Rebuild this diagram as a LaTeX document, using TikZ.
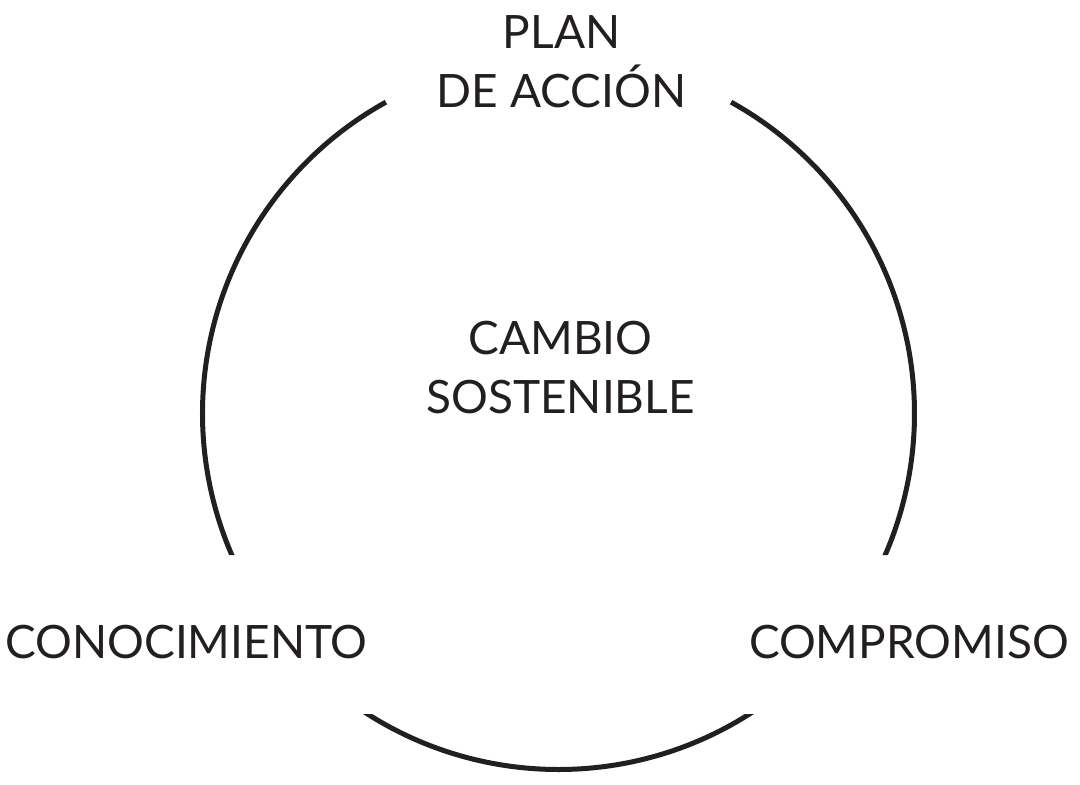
\documentclass[tikz,border=0pt]{standalone}
\usepackage{fontspec}
\setmainfont{Lato}
\definecolor{tinta}{HTML}{231F20}
\tikzset{
  aro/.style={draw=tinta,line width=2.5pt},
  rotulo/.style={text=tinta,font=\fontsize{23}{29.5}\selectfont,align=center,inner sep=0pt,anchor=base}
}
\begin{document}
\begin{tikzpicture}[x=0.5pt,y=0.5pt]
    \useasboundingbox (-558.5,-370.5) rectangle (521.5,413.5);
    \coordinate (centro) at (0,0);
    \begin{scope}
      \clip (-560,-141.5) rectangle (530,420) (-560,-372) rectangle (530,-300.5);
      \foreach \a/\b in {119/215,-35/61,230/310}
        \draw[aro] (centro) ++(\a:356) arc[start angle=\a,end angle=\b,radius=356];
    \end{scope}
    \node[rotulo] (plan) at (3,306.5) {PLAN\\DE ACCIÓN};
    \node[rotulo] (cambio) at (2,0.5) {CAMBIO\\SOSTENIBLE};
    \node[rotulo] (conocimiento) at (-372,-244.5) {CONOCIMIENTO};
    \node[rotulo] (compromiso) at (350.5,-244.5) {COMPROMISO};
\end{tikzpicture}
\end{document}
